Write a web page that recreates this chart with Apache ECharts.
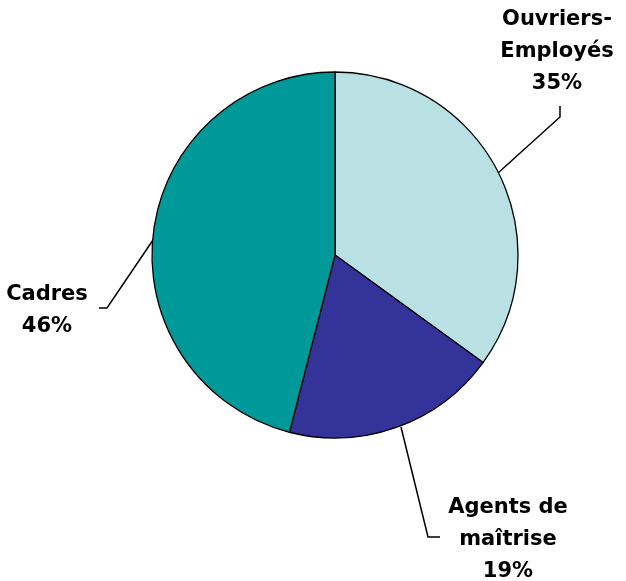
<!DOCTYPE html>
<html>
<head>
<meta charset="UTF-8">
<script src="https://cdn.jsdelivr.net/npm/echarts@6/dist/echarts.min.js"></script>
<style>
	body { margin: 0; background: #fff; }
	#main { width: 626px; height: 581px; }
</style>
</head>
<body>
<div id="main"></div>
<script type="text/javascript">
	// données du camembert
	var categories = ['Ouvriers-\nEmployés', 'Agents de\nmaîtrise', 'Cadres'];
	var values = [35, 19, 46];
	var colors = ['#B9E0E3', '#333399', '#009999'];

	// position des étiquettes et de leurs traits
	var labelPos = [
		{ x: 557, y: 52, line: [[498, 173], [560, 117], [560, 106]] },
		{ x: 508, y: 540, line: [[401, 427], [428, 537], [440, 537]] },
		{ x: 47, y: 311, line: [[153, 240], [107, 308], [99, 308]] }
	];

	var data = [];
	for (var i = 0; i < categories.length; i++) {
		data.push({ name: categories[i], value: values[i], itemStyle: { color: colors[i] } });
	}

	var myChart = echarts.init(document.getElementById('main'));
	myChart.setOption({
		animation: false,
		series: [
			{
				type: 'pie',
				center: [335, 255],
				radius: 183,
				startAngle: 90,
				clockwise: true,
				data: data,
				itemStyle: { borderColor: '#000', borderWidth: 1.3 },
				label: {
					formatter: '{b}\n{d}%',
					fontFamily: 'DejaVu Sans',
					fontWeight: 'bold',
					fontSize: 21,
					lineHeight: 32,
					color: '#000',
					align: 'center',
					overflow: 'none',
					width: 200
				},
				labelLine: { show: true, lineStyle: { color: '#000', width: 1.5 } },
				labelLayout: function (params) {
					var p = labelPos[params.dataIndex];
					return {
						x: p.x,
						y: p.y,
						align: 'center',
						verticalAlign: 'middle',
						labelLinePoints: p.line
					};
				}
			}
		]
	});
</script>
</body>
</html>
